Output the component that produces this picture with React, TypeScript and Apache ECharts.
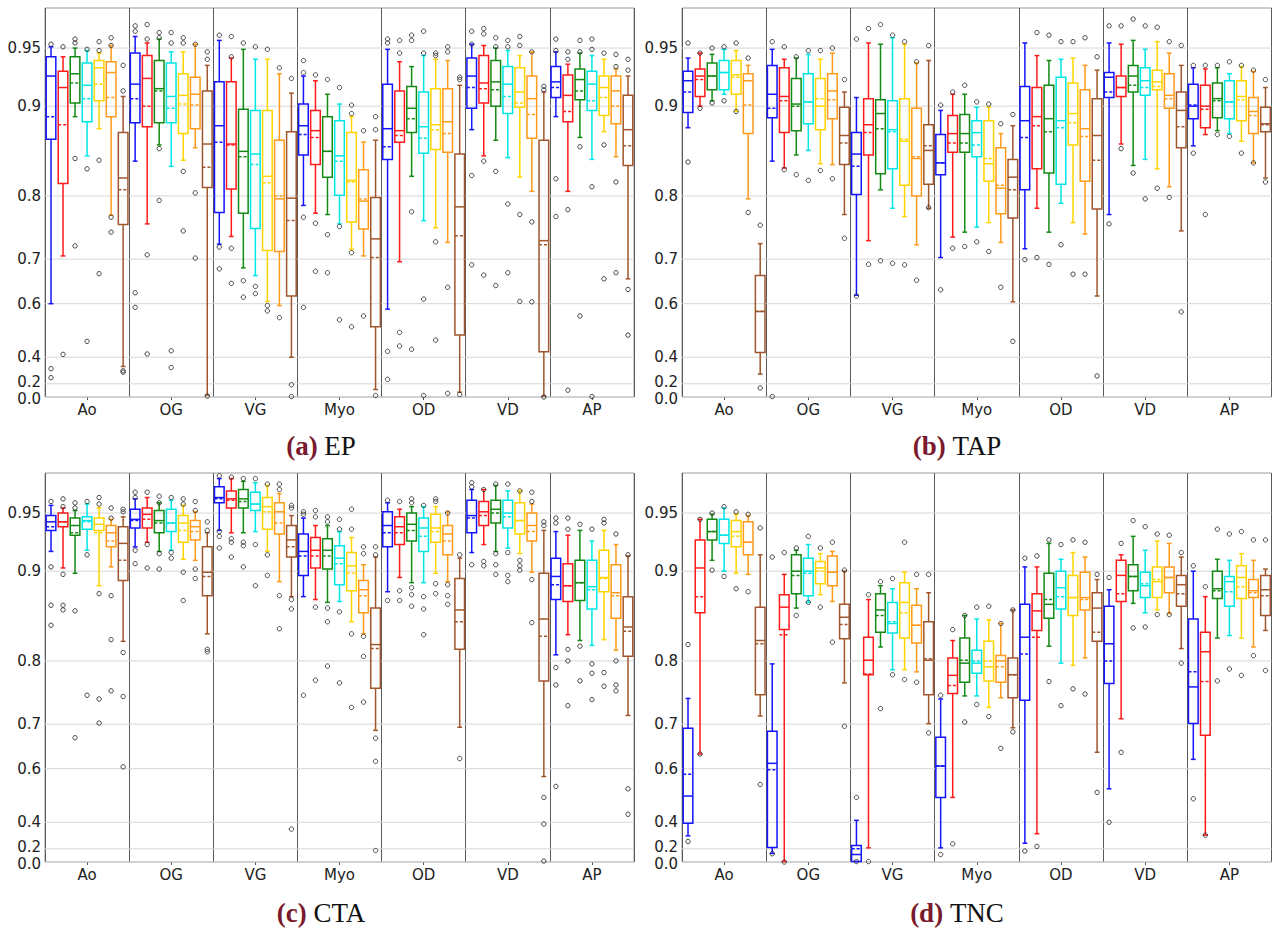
import React, { useEffect, useRef } from "react";
import * as echarts from "echarts";

const GROUPS = ["Ao", "OG", "VG", "Myo", "OD", "VD", "AP"];
const Y_TICKS = [0, 0.2, 0.4, 0.6, 0.7, 0.8, 0.9, 0.95];
const Y_TICK_LABELS = ["0.0", "0.2", "0.4", "0.6", "0.7", "0.8", "0.9", "0.95"];
const Y_MAX = 0.98;
const SERIES_COLORS = ["#1414ff", "#ff1a1a", "#138a13", "#00e6e6", "#ffd400", "#ff9a1a", "#a0562c"];
const PANEL_LETTERS = ["(a)", "(b)", "(c)", "(d)"];
const PANEL_NAMES = ["EP", "TAP", "CTA", "TNC"];

// each row: [lowWhisker, q1, median, q3, highWhisker, mean]; rows in GROUPS order
// ---------------- EP ----------------
const EP_BLUE = [[0.600, 0.867, 0.927, 0.943, 0.951, 0.890], [0.843, 0.884, 0.920, 0.946, 0.959, 0.907], [0.727, 0.777, 0.881, 0.922, 0.956, 0.864], [0.787, 0.850, 0.881, 0.902, 0.927, 0.872], [0.585, 0.845, 0.878, 0.920, 0.949, 0.859], [0.877, 0.898, 0.927, 0.942, 0.953, 0.917], [0.890, 0.908, 0.922, 0.935, 0.947, 0.917]];
const EP_BLUE_OUT = [[0.953, 0.33, 0.26], [0.967, 0.963, 0.628, 0.59], [0.96, 0.722, 0.681], [0.94, 0.93, 0.77, 0.59], [0.957, 0.954, 0.43, 0.245], [0.963, 0.953, 0.826, 0.689], [0.957, 0.948, 0.822, 0.771]];
const EP_RED = [[0.706, 0.816, 0.917, 0.931, 0.943, 0.882], [0.760, 0.880, 0.925, 0.944, 0.954, 0.900], [0.740, 0.809, 0.862, 0.922, 0.942, 0.861], [0.776, 0.839, 0.876, 0.896, 0.923, 0.869], [0.695, 0.864, 0.876, 0.914, 0.939, 0.871], [0.849, 0.903, 0.921, 0.944, 0.952, 0.916], [0.806, 0.885, 0.910, 0.928, 0.937, 0.895]];
const EP_RED_OUT = [[0.951, 0.415], [0.968, 0.957, 0.708, 0.417], [0.959, 0.943, 0.72, 0.65], [0.928, 0.761, 0.676], [0.956, 0.946, 0.51, 0.455], [0.965, 0.961, 0.843, 0.668], [0.947, 0.941, 0.781, 0.12]];
const EP_GREEN = [[0.890, 0.903, 0.929, 0.943, 0.950, 0.921], [0.861, 0.884, 0.916, 0.940, 0.957, 0.914], [0.683, 0.776, 0.854, 0.897, 0.949, 0.848], [0.774, 0.824, 0.854, 0.890, 0.911, 0.854], [0.825, 0.874, 0.898, 0.918, 0.935, 0.888], [0.866, 0.900, 0.922, 0.940, 0.950, 0.915], [0.869, 0.906, 0.924, 0.933, 0.946, 0.914]];
const EP_GREEN_OUT = [[0.957, 0.954, 0.846, 0.724], [0.962, 0.958, 0.857, 0.794], [0.954, 0.656, 0.617], [0.924, 0.743, 0.673], [0.96, 0.956, 0.778, 0.44], [0.958, 0.951, 0.831, 0.645], [0.956, 0.947, 0.859, 0.565]];
const EP_CYAN = [[0.849, 0.885, 0.919, 0.938, 0.948, 0.907], [0.837, 0.884, 0.909, 0.938, 0.947, 0.898], [0.667, 0.753, 0.851, 0.896, 0.941, 0.839], [0.760, 0.801, 0.849, 0.886, 0.902, 0.843], [0.765, 0.852, 0.880, 0.913, 0.944, 0.868], [0.847, 0.893, 0.920, 0.935, 0.948, 0.909], [0.845, 0.896, 0.920, 0.931, 0.944, 0.905]];
const EP_CYAN_OUT = [[0.949, 0.834, 0.475], [0.962, 0.954, 0.433, 0.338], [0.951, 0.643, 0.626], [0.917, 0.756, 0.553], [0.963, 0.946, 0.612, 0.03], [0.956, 0.951, 0.789, 0.673], [0.957, 0.949, 0.812, 0.01]];
const EP_GOLD = [[0.878, 0.905, 0.934, 0.940, 0.946, 0.920], [0.844, 0.873, 0.910, 0.929, 0.947, 0.902], [0.606, 0.716, 0.825, 0.896, 0.941, 0.817], [0.718, 0.763, 0.820, 0.874, 0.890, 0.818], [0.754, 0.856, 0.882, 0.916, 0.941, 0.877], [0.824, 0.899, 0.913, 0.934, 0.944, 0.903], [0.875, 0.891, 0.917, 0.927, 0.941, 0.908]];
const EP_GOLD_OUT = [[0.955, 0.948, 0.844, 0.671], [0.958, 0.954, 0.831, 0.749], [0.949, 0.595, 0.58], [0.901, 0.893, 0.712, 0.53], [0.946, 0.944, 0.731, 0.48], [0.959, 0.952, 0.774, 0.606], [0.946, 0.861, 0.66]];
const EP_ORANGE = [[0.773, 0.890, 0.930, 0.939, 0.952, 0.908], [0.858, 0.878, 0.911, 0.926, 0.953, 0.901], [0.595, 0.714, 0.796, 0.866, 0.929, 0.800], [0.706, 0.752, 0.793, 0.833, 0.864, 0.796], [0.730, 0.853, 0.885, 0.916, 0.940, 0.873], [0.806, 0.868, 0.907, 0.927, 0.947, 0.892], [0.848, 0.883, 0.914, 0.927, 0.933, 0.900]];
const EP_ORANGE_OUT = [[0.958, 0.952, 0.77, 0.747], [0.953, 0.804, 0.702], [0.934, 0.56], [0.876, 0.565], [0.951, 0.947, 0.641, 0.07], [0.947, 0.763, 0.605], [0.945, 0.935, 0.818, 0.673]];
const EP_BROWN = [[0.345, 0.759, 0.823, 0.874, 0.909, 0.808], [0.040, 0.811, 0.862, 0.914, 0.936, 0.836], [0.400, 0.620, 0.797, 0.875, 0.912, 0.765], [0.130, 0.530, 0.736, 0.798, 0.866, 0.703], [0.090, 0.500, 0.785, 0.851, 0.919, 0.741], [0.020, 0.428, 0.733, 0.866, 0.913, 0.726], [0.660, 0.838, 0.877, 0.910, 0.927, 0.860]];
const EP_BROWN_OUT = [[0.936, 0.914, 0.315, 0.305], [0.947, 0.941, 0.02], [0.925, 0.19, 0.01], [0.89, 0.877, 0.03], [0.926, 0.924, 0.05], [0.918, 0.915, 0.0], [0.941, 0.932, 0.636, 0.50]];

// ---------------- TAP ----------------
const TAP_BLUE = [[0.879, 0.894, 0.923, 0.931, 0.942, 0.913], [0.843, 0.889, 0.911, 0.936, 0.949, 0.898], [0.622, 0.802, 0.851, 0.874, 0.908, 0.837], [0.703, 0.827, 0.841, 0.872, 0.896, 0.841], [0.719, 0.808, 0.886, 0.918, 0.954, 0.869], [0.774, 0.908, 0.926, 0.930, 0.954, 0.913], [0.860, 0.888, 0.900, 0.920, 0.934, 0.901]];
const TAP_BLUE_OUT = [[0.954, 0.842], [0.955, 0.01], [0.957, 0.62], [0.901, 0.635], [0.699], [0.967, 0.76], [0.936, 0.852]];
const TAP_RED = [[0.900, 0.909, 0.927, 0.933, 0.946, 0.924], [0.835, 0.874, 0.909, 0.934, 0.941, 0.905], [0.733, 0.850, 0.882, 0.907, 0.954, 0.874], [0.739, 0.853, 0.873, 0.891, 0.911, 0.863], [0.783, 0.834, 0.890, 0.917, 0.944, 0.881], [0.862, 0.909, 0.917, 0.927, 0.953, 0.917], [0.872, 0.879, 0.900, 0.919, 0.933, 0.897]];
const TAP_RED_OUT = [[0.946, 0.898], [0.951, 0.833], [0.965, 0.69], [0.913, 0.72], [0.962, 0.703], [0.967, 0.857], [0.936, 0.774]];
const TAP_GREEN = [[0.905, 0.915, 0.927, 0.938, 0.945, 0.927], [0.850, 0.876, 0.902, 0.925, 0.942, 0.900], [0.808, 0.828, 0.893, 0.906, 0.953, 0.878], [0.747, 0.853, 0.873, 0.892, 0.911, 0.863], [0.747, 0.829, 0.888, 0.919, 0.940, 0.875], [0.838, 0.913, 0.927, 0.936, 0.956, 0.919], [0.876, 0.889, 0.907, 0.921, 0.934, 0.905]];
const TAP_GREEN_OUT = [[0.95, 0.903], [0.943, 0.827], [0.968, 0.697], [0.919, 0.723], [0.96, 0.69], [0.972, 0.829], [0.936, 0.872]];
const TAP_CYAN = [[0.911, 0.915, 0.930, 0.940, 0.949, 0.930], [0.855, 0.883, 0.904, 0.929, 0.945, 0.904], [0.783, 0.834, 0.877, 0.905, 0.958, 0.875], [0.755, 0.848, 0.874, 0.886, 0.899, 0.861], [0.790, 0.815, 0.886, 0.926, 0.941, 0.879], [0.845, 0.910, 0.923, 0.934, 0.949, 0.917], [0.873, 0.888, 0.904, 0.923, 0.929, 0.904]];
const TAP_CYAN_OUT = [[0.951, 0.905], [0.948, 0.82], [0.96, 0.692], [0.904, 0.731], [0.955, 0.726], [0.967, 0.796], [0.939, 0.87]];
const TAP_GOLD = [[0.895, 0.911, 0.928, 0.940, 0.948, 0.926], [0.840, 0.877, 0.900, 0.925, 0.941, 0.907], [0.771, 0.814, 0.865, 0.907, 0.953, 0.867], [0.762, 0.819, 0.840, 0.886, 0.899, 0.846], [0.762, 0.861, 0.893, 0.921, 0.942, 0.884], [0.834, 0.915, 0.922, 0.932, 0.955, 0.918], [0.865, 0.886, 0.909, 0.923, 0.935, 0.906]];
const TAP_GOLD_OUT = [[0.954, 0.895], [0.948, 0.832], [0.955, 0.689], [0.902, 0.714], [0.955, 0.67], [0.966, 0.81], [0.936, 0.852]];
const TAP_ORANGE = [[0.796, 0.873, 0.923, 0.929, 0.936, 0.901], [0.839, 0.888, 0.914, 0.929, 0.946, 0.906], [0.726, 0.800, 0.846, 0.898, 0.938, 0.848], [0.730, 0.775, 0.810, 0.858, 0.873, 0.814], [0.744, 0.819, 0.878, 0.915, 0.936, 0.870], [0.812, 0.898, 0.910, 0.929, 0.946, 0.907], [0.841, 0.873, 0.895, 0.908, 0.931, 0.891]];
const TAP_ORANGE_OUT = [[0.942, 0.777], [0.95, 0.822], [0.939, 0.657], [0.883, 0.641], [0.958, 0.67], [0.955, 0.798], [0.932, 0.841]];
const TAP_BROWN = [[0.290, 0.425, 0.578, 0.667, 0.728, 0.579], [0.774, 0.839, 0.871, 0.899, 0.913, 0.863], [0.783, 0.815, 0.855, 0.882, 0.940, 0.860], [0.605, 0.769, 0.824, 0.845, 0.881, 0.808], [0.620, 0.782, 0.871, 0.907, 0.932, 0.844], [0.749, 0.858, 0.896, 0.913, 0.936, 0.880], [0.823, 0.875, 0.883, 0.899, 0.917, 0.882]];
const TAP_BROWN_OUT = [[0.758, 0.15], [0.924, 0.737], [0.952, 0.784], [0.892, 0.475], [0.943, 0.275], [0.952, 0.577], [0.924, 0.818]];

// ---------------- CTA ----------------
const CTA_BLUE = [[0.918, 0.936, 0.943, 0.948, 0.956, 0.939], [0.922, 0.938, 0.945, 0.953, 0.961, 0.944], [0.936, 0.958, 0.962, 0.970, 0.976, 0.961], [0.875, 0.896, 0.918, 0.933, 0.946, 0.914], [0.880, 0.922, 0.940, 0.951, 0.958, 0.934], [0.917, 0.934, 0.948, 0.960, 0.968, 0.946], [0.808, 0.872, 0.895, 0.912, 0.935, 0.887]];
const CTA_BLUE_OUT = [[0.959, 0.904, 0.866, 0.844], [0.966, 0.962, 0.919, 0.907], [0.978, 0.935, 0.931, 0.921], [0.951, 0.949, 0.75], [0.96, 0.871], [0.973, 0.97, 0.906], [0.946, 0.942, 0.791, 0.766, 0.548]];
const CTA_RED = [[0.903, 0.939, 0.943, 0.950, 0.954, 0.943], [0.926, 0.938, 0.949, 0.954, 0.962, 0.945], [0.934, 0.954, 0.961, 0.967, 0.976, 0.960], [0.872, 0.903, 0.919, 0.930, 0.940, 0.914], [0.894, 0.924, 0.939, 0.947, 0.953, 0.934], [0.924, 0.940, 0.951, 0.959, 0.968, 0.948], [0.833, 0.870, 0.886, 0.907, 0.932, 0.886]];
const CTA_RED_OUT = [[0.961, 0.955, 0.897, 0.866, 0.861], [0.966, 0.924, 0.903], [0.977, 0.929, 0.926, 0.913], [0.952, 0.947, 0.864, 0.773], [0.959, 0.881, 0.871], [0.968, 0.909, 0.905], [0.946, 0.937, 0.815, 0.80, 0.733]];
const CTA_GREEN = [[0.898, 0.932, 0.940, 0.946, 0.952, 0.934], [0.918, 0.934, 0.944, 0.952, 0.958, 0.942], [0.934, 0.954, 0.961, 0.968, 0.974, 0.959], [0.869, 0.902, 0.919, 0.929, 0.940, 0.914], [0.889, 0.927, 0.941, 0.950, 0.955, 0.936], [0.918, 0.942, 0.953, 0.960, 0.971, 0.950], [0.826, 0.871, 0.889, 0.910, 0.936, 0.889]];
const CTA_GREEN_OUT = [[0.958, 0.954, 0.86, 0.673], [0.963, 0.958, 0.916, 0.902], [0.976, 0.926, 0.923, 0.904], [0.947, 0.943, 0.863, 0.848, 0.793], [0.961, 0.958, 0.884, 0.877, 0.865], [0.972, 0.916, 0.906, 0.897], [0.941, 0.819, 0.772]];
const CTA_CYAN = [[0.919, 0.937, 0.944, 0.947, 0.957, 0.943], [0.919, 0.935, 0.942, 0.953, 0.960, 0.942], [0.935, 0.952, 0.957, 0.966, 0.973, 0.957], [0.870, 0.887, 0.912, 0.923, 0.935, 0.907], [0.889, 0.918, 0.938, 0.946, 0.955, 0.931], [0.921, 0.938, 0.950, 0.960, 0.967, 0.947], [0.820, 0.862, 0.885, 0.910, 0.927, 0.882]];
const CTA_CYAN_OUT = [[0.959, 0.915, 0.75], [0.962, 0.917, 0.912], [0.976, 0.924, 0.886], [0.945, 0.937, 0.859, 0.769], [0.956, 0.875, 0.862, 0.833], [0.972, 0.917, 0.896, 0.89], [0.937, 0.796, 0.783, 0.743]];
const CTA_GOLD = [[0.886, 0.936, 0.941, 0.946, 0.954, 0.934], [0.911, 0.926, 0.942, 0.948, 0.956, 0.936], [0.918, 0.937, 0.955, 0.962, 0.971, 0.951], [0.848, 0.881, 0.905, 0.917, 0.930, 0.898], [0.898, 0.926, 0.938, 0.949, 0.955, 0.935], [0.916, 0.933, 0.944, 0.958, 0.967, 0.944], [0.827, 0.880, 0.894, 0.919, 0.936, 0.893]];
const CTA_GOLD_OUT = [[0.962, 0.957, 0.878, 0.744, 0.702], [0.961, 0.957, 0.899, 0.871], [0.972, 0.915, 0.896], [0.953, 0.937, 0.834, 0.73], [0.961, 0.959, 0.888, 0.878], [0.967, 0.91, 0.905, 0.901], [0.945, 0.942, 0.784, 0.764]];
const CTA_ORANGE = [[0.904, 0.922, 0.934, 0.940, 0.945, 0.927], [0.910, 0.928, 0.939, 0.944, 0.951, 0.935], [0.890, 0.933, 0.951, 0.958, 0.965, 0.942], [0.834, 0.858, 0.882, 0.891, 0.906, 0.876], [0.890, 0.915, 0.933, 0.940, 0.951, 0.927], [0.899, 0.927, 0.940, 0.950, 0.957, 0.935], [0.814, 0.852, 0.879, 0.906, 0.924, 0.876]];
const CTA_ORANGE_OUT = [[0.954, 0.946, 0.876, 0.827, 0.757], [0.959, 0.952, 0.902, 0.893], [0.972, 0.968, 0.876, 0.84], [0.922, 0.916, 0.831, 0.806, 0.739], [0.95, 0.887, 0.876, 0.867], [0.966, 0.959, 0.892, 0.847], [0.933, 0.80, 0.766, 0.757]];
const CTA_BROWN = [[0.825, 0.891, 0.925, 0.939, 0.947, 0.910], [0.834, 0.876, 0.899, 0.922, 0.934, 0.895], [0.875, 0.913, 0.928, 0.940, 0.948, 0.922], [0.688, 0.761, 0.821, 0.863, 0.913, 0.816], [0.694, 0.815, 0.861, 0.893, 0.912, 0.848], [0.578, 0.772, 0.851, 0.898, 0.936, 0.831], [0.716, 0.806, 0.842, 0.875, 0.914, 0.837]];
const CTA_BROWN_OUT = [[0.953, 0.951, 0.811, 0.748, 0.605], [0.943, 0.936, 0.815, 0.812], [0.956, 0.954, 0.872, 0.862, 0.36], [0.922, 0.915, 0.672, 0.619, 0.18], [0.915, 0.626], [0.943, 0.94, 0.51, 0.39, 0.02], [0.915, 0.54, 0.44]];

// ---------------- TNC ----------------
const TNC_BLUE = [[0.315, 0.395, 0.515, 0.692, 0.745, 0.585], [0.145, 0.215, 0.614, 0.686, 0.796, 0.597], [0.010, 0.010, 0.130, 0.235, 0.410, 0.200], [0.210, 0.510, 0.607, 0.674, 0.744, 0.607], [0.255, 0.742, 0.830, 0.867, 0.904, 0.809], [0.540, 0.768, 0.822, 0.865, 0.882, 0.800], [0.624, 0.701, 0.763, 0.851, 0.900, 0.785]];
const TNC_BLUE_OUT = [[0.821, 0.27], [0.913, 0.14], [0.51, 0.01], [0.75, 0.13], [0.912, 0.175], [0.894, 0.40], [0.905, 0.505]];
const TNC_RED = [[0.637, 0.858, 0.903, 0.928, 0.945, 0.875], [0.010, 0.839, 0.864, 0.877, 0.897, 0.833], [0.210, 0.781, 0.801, 0.830, 0.872, 0.782], [0.510, 0.753, 0.780, 0.804, 0.826, 0.765], [0.330, 0.838, 0.860, 0.878, 0.904, 0.830], [0.710, 0.870, 0.896, 0.910, 0.915, 0.878], [0.320, 0.678, 0.812, 0.836, 0.875, 0.771]];
const TNC_RED_OUT = [[0.945, 0.637], [0.917, 0.0], [0.877, 0.01], [0.839, 0.25], [0.914, 0.225], [0.925, 0.641], [0.885, 0.32]];
const TNC_GREEN = [[0.910, 0.928, 0.935, 0.945, 0.949, 0.935], [0.863, 0.878, 0.900, 0.915, 0.919, 0.896], [0.818, 0.836, 0.861, 0.878, 0.886, 0.855], [0.749, 0.770, 0.797, 0.829, 0.855, 0.801], [0.819, 0.852, 0.867, 0.898, 0.925, 0.872], [0.868, 0.881, 0.895, 0.906, 0.931, 0.895], [0.829, 0.873, 0.883, 0.900, 0.911, 0.881]];
const TNC_GREEN_OUT = [[0.95, 0.901], [0.921, 0.855], [0.89, 0.728], [0.855, 0.704], [0.928, 0.771], [0.944, 0.841], [0.937, 0.772]];
const TNC_CYAN = [[0.900, 0.925, 0.932, 0.945, 0.954, 0.932], [0.869, 0.876, 0.900, 0.912, 0.924, 0.898], [0.788, 0.835, 0.846, 0.869, 0.883, 0.848], [0.749, 0.783, 0.797, 0.814, 0.851, 0.800], [0.797, 0.862, 0.884, 0.900, 0.911, 0.875], [0.858, 0.874, 0.886, 0.899, 0.919, 0.888], [0.832, 0.865, 0.890, 0.895, 0.910, 0.880]];
const TNC_CYAN_OUT = [[0.955, 0.895], [0.931, 0.869], [0.893, 0.781], [0.864, 0.735], [0.924, 0.733], [0.939, 0.842], [0.933, 0.789]];
const TNC_GOLD = [[0.898, 0.922, 0.935, 0.944, 0.949, 0.931], [0.877, 0.888, 0.903, 0.909, 0.916, 0.900], [0.788, 0.829, 0.869, 0.889, 0.899, 0.858], [0.730, 0.772, 0.792, 0.825, 0.850, 0.800], [0.794, 0.855, 0.874, 0.896, 0.917, 0.874], [0.861, 0.874, 0.890, 0.904, 0.927, 0.892], [0.829, 0.873, 0.894, 0.905, 0.916, 0.885]];
const TNC_GOLD_OUT = [[0.951, 0.883], [0.921, 0.864], [0.926, 0.774], [0.865, 0.714], [0.928, 0.76], [0.933, 0.856], [0.935, 0.78]];
const TNC_ORANGE = [[0.897, 0.915, 0.926, 0.943, 0.948, 0.926], [0.870, 0.886, 0.899, 0.914, 0.918, 0.899], [0.785, 0.823, 0.844, 0.866, 0.883, 0.844], [0.746, 0.770, 0.800, 0.807, 0.846, 0.792], [0.804, 0.861, 0.874, 0.899, 0.913, 0.872], [0.857, 0.879, 0.894, 0.904, 0.925, 0.894], [0.818, 0.874, 0.881, 0.892, 0.910, 0.879]];
const TNC_ORANGE_OUT = [[0.949, 0.88], [0.926, 0.824], [0.897, 0.77], [0.846, 0.65], [0.926, 0.752], [0.932, 0.856], [0.928, 0.807]];
const TNC_BROWN = [[0.715, 0.751, 0.826, 0.864, 0.915, 0.822], [0.769, 0.828, 0.853, 0.867, 0.900, 0.845], [0.701, 0.751, 0.801, 0.848, 0.879, 0.803], [0.693, 0.746, 0.781, 0.804, 0.861, 0.781], [0.641, 0.825, 0.863, 0.879, 0.892, 0.836], [0.816, 0.865, 0.887, 0.896, 0.913, 0.878], [0.838, 0.855, 0.882, 0.896, 0.902, 0.876]];
const TNC_BROWN_OUT = [[0.938, 0.554], [0.901, 0.696], [0.897, 0.683], [0.861, 0.685], [0.897, 0.528], [0.917, 0.797], [0.928, 0.787]];

const PANEL_STATS = [
  [EP_BLUE, EP_RED, EP_GREEN, EP_CYAN, EP_GOLD, EP_ORANGE, EP_BROWN],
  [TAP_BLUE, TAP_RED, TAP_GREEN, TAP_CYAN, TAP_GOLD, TAP_ORANGE, TAP_BROWN],
  [CTA_BLUE, CTA_RED, CTA_GREEN, CTA_CYAN, CTA_GOLD, CTA_ORANGE, CTA_BROWN],
  [TNC_BLUE, TNC_RED, TNC_GREEN, TNC_CYAN, TNC_GOLD, TNC_ORANGE, TNC_BROWN],
];
const PANEL_OUTLIERS = [
  [EP_BLUE_OUT, EP_RED_OUT, EP_GREEN_OUT, EP_CYAN_OUT, EP_GOLD_OUT, EP_ORANGE_OUT, EP_BROWN_OUT],
  [TAP_BLUE_OUT, TAP_RED_OUT, TAP_GREEN_OUT, TAP_CYAN_OUT, TAP_GOLD_OUT, TAP_ORANGE_OUT, TAP_BROWN_OUT],
  [CTA_BLUE_OUT, CTA_RED_OUT, CTA_GREEN_OUT, CTA_CYAN_OUT, CTA_GOLD_OUT, CTA_ORANGE_OUT, CTA_BROWN_OUT],
  [TNC_BLUE_OUT, TNC_RED_OUT, TNC_GREEN_OUT, TNC_CYAN_OUT, TNC_GOLD_OUT, TNC_ORANGE_OUT, TNC_BROWN_OUT],
];

// axis scale: exponential stretch toward 1
const warp = (v: number) => Math.exp(3.5 * v) - 1;
const WARPED_TICKS = Y_TICKS.map(warp);
// small vertical nudges so the two crowded bottom labels do not collide
const LABEL_NUDGE = [1.8, -1.8, 0, 0, 0, 0, 0, 0];

const GRID_BOXES = [
  { left: 45, top: 8, width: 589, height: 389 },
  { left: 682, top: 8, width: 589.5, height: 389 },
  { left: 45, top: 473, width: 589, height: 389 },
  { left: 682, top: 473, width: 589.5, height: 389 },
];
const TITLE_POS = [
  [321, 446],
  [957, 446],
  [321, 913],
  [957, 913],
];

function buildOption() {
  const grid: any[] = [];
  const xAxis: any[] = [];
  const yAxis: any[] = [];
  const series: any[] = [];
  const graphic: any[] = [];
  const NS = SERIES_COLORS.length;

  for (let p = 0; p < 4; p++) {
    grid.push({ ...GRID_BOXES[p], show: true, borderColor: "#9a9a9a", borderWidth: 1, backgroundColor: "#ffffff", containLabel: false });
    xAxis.push({
      type: "category",
      gridIndex: p,
      data: GROUPS,
      boundaryGap: true,
      axisLine: { show: false },
      axisTick: { show: true, alignWithLabel: true, length: 3, lineStyle: { color: "#555" } },
      axisLabel: { interval: 0, fontSize: 15, color: "#222", margin: 5, fontFamily: "DejaVu Sans" },
      splitLine: { show: true, interval: 0, lineStyle: { color: "#5a5a5a", width: 1 } },
    });
    yAxis.push({
      type: "value",
      gridIndex: p,
      min: 0,
      max: warp(Y_MAX),
      axisLine: { show: false },
      axisTick: { show: false },
      splitLine: { show: false },
      axisLabel: { show: false },
    });

    // horizontal grid lines and their tick labels, placed through the y axis
    series.push({
      type: "custom",
      xAxisIndex: p,
      yAxisIndex: p,
      z: 1,
      silent: true,
      data: WARPED_TICKS.map((t, i) => [0, t, i]),
      encode: { x: 0, y: 1 },
      renderItem: (params: any, api: any) => {
        const cs = params.coordSys;
        const y = api.coord([0, api.value(1)])[1];
        const idx = api.value(2);
        return {
          type: "group",
          children: [
            {
              type: "line",
              shape: { x1: cs.x, y1: y, x2: cs.x + cs.width, y2: y },
              style: { stroke: "#d6d6d6", lineWidth: 1 },
            },
            {
              type: "text",
              x: cs.x - 4,
              y: y + LABEL_NUDGE[idx],
              style: {
                text: Y_TICK_LABELS[idx],
                fontSize: 15,
                lineHeight: 12,
                fontFamily: "DejaVu Sans",
                fill: "#222",
                align: "right",
                verticalAlign: "middle",
              },
            },
          ],
        };
      },
    });

    // boxes
    for (let s = 0; s < NS; s++) {
      const color = SERIES_COLORS[s];
      const stats = PANEL_STATS[p][s];
      series.push({
        type: "custom",
        name: `${PANEL_NAMES[p]}-${s}`,
        xAxisIndex: p,
        yAxisIndex: p,
        z: 3,
        silent: true,
        data: stats.map((row, gi) => [gi, ...row.map(warp)]),
        encode: { x: 0, y: [1, 2, 3, 4, 5, 6] },
        renderItem: (params: any, api: any) => {
          const gi = api.value(0);
          const band = api.size([1, 0])[0];
          const slot = band / NS;
          const cx = api.coord([gi, 0])[0] + (s - (NS - 1) / 2) * slot;
          const Y = (k: number) => api.coord([gi, api.value(k)])[1];
          const lw = Y(1), q1 = Y(2), md = Y(3), q3 = Y(4), hw = Y(5), mn = Y(6);
          const hb = slot * 0.4;
          const hc = hb * 0.5;
          const ls = { stroke: color, lineWidth: 1.5, fill: "none" };
          return {
            type: "group",
            children: [
              { type: "line", shape: { x1: cx, y1: q3, x2: cx, y2: hw }, style: ls },
              { type: "line", shape: { x1: cx, y1: q1, x2: cx, y2: lw }, style: ls },
              { type: "line", shape: { x1: cx - hc, y1: hw, x2: cx + hc, y2: hw }, style: ls },
              { type: "line", shape: { x1: cx - hc, y1: lw, x2: cx + hc, y2: lw }, style: ls },
              { type: "rect", shape: { x: cx - hb, y: q3, width: 2 * hb, height: q1 - q3 }, style: ls },
              { type: "line", shape: { x1: cx - hb, y1: md, x2: cx + hb, y2: md }, style: ls },
              { type: "line", shape: { x1: cx - hb, y1: mn, x2: cx + hb, y2: mn }, style: { ...ls, lineDash: [3, 2] } },
            ],
          };
        },
      });
    }

    // outliers
    const outData: number[][] = [];
    PANEL_OUTLIERS[p].forEach((perSeries, s) => {
      perSeries.forEach((vals, gi) => {
        vals.forEach((v) => outData.push([gi, s, warp(v)]));
      });
    });
    series.push({
      type: "custom",
      xAxisIndex: p,
      yAxisIndex: p,
      z: 4,
      silent: true,
      data: outData,
      encode: { x: 0, y: 2 },
      renderItem: (params: any, api: any) => {
        const gi = api.value(0);
        const s = api.value(1);
        const band = api.size([1, 0])[0];
        const slot = band / NS;
        const cx = api.coord([gi, 0])[0] + (s - (NS - 1) / 2) * slot;
        const cy = api.coord([gi, api.value(2)])[1];
        return {
          type: "circle",
          shape: { cx, cy, r: 2.2 },
          style: { stroke: "#333", fill: "none", lineWidth: 0.9 },
        };
      },
    });

    graphic.push({
      type: "text",
      x: TITLE_POS[p][0],
      y: TITLE_POS[p][1],
      style: {
        text: `{b|${PANEL_LETTERS[p]}} {n|${PANEL_NAMES[p]}}`,
        fontSize: 27,
        fontFamily: "Liberation Serif",
        fill: "#111",
        align: "center",
        verticalAlign: "middle",
        rich: {
          b: { fontWeight: "bold", fill: "#7a1a2c", fontSize: 27, fontFamily: "Liberation Serif" },
          n: { fill: "#111", fontSize: 27, fontFamily: "Liberation Serif" },
        },
      },
    });
  }

  return {
    animation: false,
    backgroundColor: "#ffffff",
    grid,
    xAxis,
    yAxis,
    series,
    graphic,
  };
}

export default function App() {
  const ref = useRef<HTMLDivElement>(null);
  useEffect(() => {
    if (!ref.current) return;
    const chart = echarts.init(ref.current, null, { renderer: "svg" });
    chart.setOption(buildOption());
    return () => chart.dispose();
  }, []);
  return <div ref={ref} style={{ position: "absolute", left: 0, top: 0, width: 1274, height: 931 }} />;
}
